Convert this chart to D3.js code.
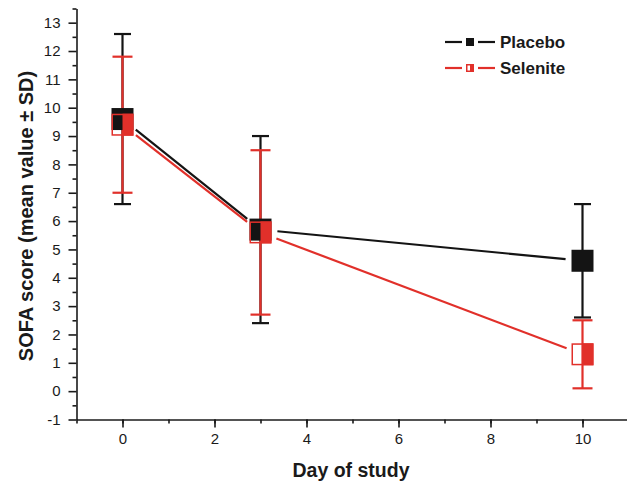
<!DOCTYPE html>
<html lang="en">
<head>
<meta charset="UTF-8">
<title>SOFA score</title>
<script src="https://d3js.org/d3.v7.min.js"></script>
<style>
  body { margin: 0; background: #fff; }
  text { font-family: "Liberation Sans", Arial, sans-serif; fill: #1a1a1a; }
  .axis path, .axis line { stroke: #1a1a1a; stroke-width: 1.6px; }
</style>
</head>
<body>
<div id="chart"></div>
<script>
// data
const days = [0, 3, 10];
const placeboMean = [9.6, 5.7, 4.6];
const placeboSD = [3.0, 3.3, 2.0];
const seleniteMean = [9.4, 5.6, 1.3];
const seleniteSD = [2.4, 2.9, 1.2];
const xTicks = [0, 2, 4, 6, 8, 10];
const yTicks = [-1, 0, 1, 2, 3, 4, 5, 6, 7, 8, 9, 10, 11, 12, 13];

const width = 627, height = 484;
const black = "#141414", red = "#e1302a";

const svg = d3.select("#chart").append("svg")
    .attr("width", width)
    .attr("height", height);

const x = d3.scaleLinear().domain([-1, 11]).range([76.5, 628.5]);
const y = d3.scaleLinear().domain([-1, 13.5]).range([419.5, 8.5]);
const fmt = d => String(d); // plain hyphen minus like the original

// axes
svg.append("g").attr("class", "axis")
    .attr("transform", "translate(0,419.5)")
    .call(d3.axisBottom(x).tickValues(xTicks).tickFormat(fmt).tickSize(8).tickSizeOuter(0).tickPadding(6));
svg.append("g").attr("class", "axis")
    .attr("transform", "translate(0,419.5)")
    .call(d3.axisBottom(x).tickValues(d3.range(-1, 12)).tickSize(4).tickFormat("").tickSizeOuter(0))
    .select(".domain").remove();

svg.append("g").attr("class", "axis")
    .attr("transform", "translate(76.5,0)")
    .call(d3.axisLeft(y).tickValues(yTicks).tickFormat(fmt).tickSize(8).tickSizeOuter(0).tickPadding(8));
svg.append("g").attr("class", "axis")
    .attr("transform", "translate(76.5,0)")
    .call(d3.axisLeft(y).tickValues(d3.range(-0.5, 13.6, 1)).tickSize(4).tickFormat("").tickSizeOuter(0))
    .select(".domain").remove();

svg.selectAll(".axis text")
    .style("font-size", "15px")
    .style("font-family", "'Liberation Sans', Arial, sans-serif")
    .attr("fill", "#1a1a1a");

// axis titles
svg.append("text")
    .attr("x", 351).attr("y", 477)
    .attr("text-anchor", "middle")
    .style("font-size", "19.5px").style("font-weight", "bold")
    .text("Day of study");
svg.append("text")
    .attr("transform", "translate(33,216) rotate(-90)")
    .attr("text-anchor", "middle")
    .style("font-size", "20px").style("font-weight", "bold")
    .text("SOFA score (mean value ± SD)");

const series = [
    { name: "Placebo", mean: placeboMean, sd: placeboSD, color: black, cap: 17, half: false },
    { name: "Selenite", mean: seleniteMean, sd: seleniteSD, color: red, cap: 20, half: true }
];

// connecting lines, shortened near the markers
const gap = 17;
series.forEach(s => {
    const pts = days.map((d, i) => [x(d), y(s.mean[i])]);
    for (let i = 0; i < pts.length - 1; i++) {
        const [x1, y1] = pts[i], [x2, y2] = pts[i + 1];
        const len = Math.hypot(x2 - x1, y2 - y1);
        const ux = (x2 - x1) / len, uy = (y2 - y1) / len;
        svg.append("line")
            .attr("x1", x1 + ux * gap).attr("y1", y1 + uy * gap)
            .attr("x2", x2 - ux * gap).attr("y2", y2 - uy * gap)
            .attr("stroke", s.color).attr("stroke-width", 2.2);
    }
});

// error bars
series.forEach(s => {
    const g = svg.append("g");
    days.forEach((d, i) => {
        const cx = x(d), top = y(s.mean[i] + s.sd[i]), bot = y(s.mean[i] - s.sd[i]);
        g.append("line").attr("x1", cx).attr("x2", cx).attr("y1", top).attr("y2", bot)
            .attr("stroke", s.color).attr("stroke-width", 2.2);
        [top, bot].forEach(yy => {
            g.append("line").attr("x1", cx - s.cap / 2).attr("x2", cx + s.cap / 2)
                .attr("y1", yy).attr("y2", yy)
                .attr("stroke", s.color).attr("stroke-width", 2.2);
        });
    });
});

// markers
function marker(g, cx, cy, size, s) {
    if (!s.half) {
        g.append("rect").attr("x", cx - size / 2).attr("y", cy - size / 2)
            .attr("width", size).attr("height", size).attr("fill", s.color);
    } else {
        g.append("rect").attr("x", cx).attr("y", cy - size / 2)
            .attr("width", size / 2).attr("height", size).attr("fill", s.color);
        g.append("rect").attr("x", cx - size / 2 + 0.75).attr("y", cy - size / 2 + 0.75)
            .attr("width", size - 1.5).attr("height", size - 1.5)
            .attr("fill", "none").attr("stroke", s.color).attr("stroke-width", 1.5);
    }
}
series.forEach(s => {
    const g = svg.append("g");
    days.forEach((d, i) => marker(g, x(d), y(s.mean[i]), 22, s));
});

// legend
const legend = svg.append("g");
series.forEach((s, i) => {
    const ly = 42 + i * 26;
    legend.append("line").attr("x1", 445).attr("x2", 462).attr("y1", ly).attr("y2", ly)
        .attr("stroke", s.color).attr("stroke-width", 2.2);
    legend.append("line").attr("x1", 478).attr("x2", 495).attr("y1", ly).attr("y2", ly)
        .attr("stroke", s.color).attr("stroke-width", 2.2);
    marker(legend, 470, ly, 8, s);
    legend.append("text").attr("x", 500).attr("y", ly + 6)
        .style("font-size", "17px").style("font-weight", "bold")
        .text(s.name);
});
</script>
</body>
</html>
